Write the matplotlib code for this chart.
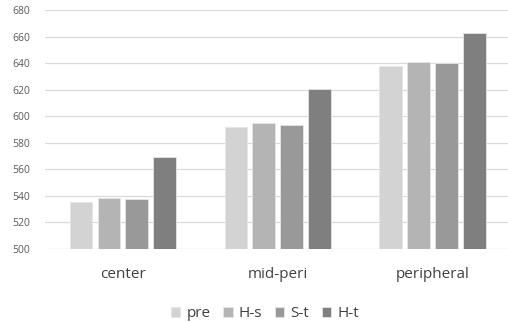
import matplotlib.pyplot as plt
import numpy as np

plt.rcParams['font.family'] = ['Open Sans', 'DejaVu Sans']

categories = ['center', 'mid-peri', 'peripheral']
series = ['pre', 'H-s', 'S-t', 'H-t']
pre = [535.4, 592.1, 637.8]
h_s = [538.4, 594.6, 640.8]
s_t = [537.6, 593.1, 640.0]
h_t = [569.3, 620.5, 662.4]
colors = ['#d3d3d3', '#b4b4b4', '#999999', '#7f7f7f']

fig = plt.figure(figsize=(5.08, 3.22), dpi=100)
ax = fig.add_axes([0.089, 0.227, 0.915, 0.742])

x = np.arange(len(categories))
step = 0.18
width = 0.145
for i, (name, vals) in enumerate(zip(series, [pre, h_s, s_t, h_t])):
    ax.bar(x + (i - 1.5) * step, vals, width, color=colors[i], label=name,
           edgecolor='#e6e6e6', linewidth=0.6, zorder=3)

ax.set_ylim(500, 680)
ax.set_xlim(-0.5, 2.5)
ax.set_yticks(np.arange(500, 681, 20))
ax.set_xticks(x)
ax.set_xticklabels(categories, fontsize=11, color='#404040')
ax.tick_params(axis='y', labelsize=7.5, labelcolor='#595959', length=0, pad=11)
ax.tick_params(axis='x', length=0, pad=13)
ax.grid(axis='y', color='#d9d9d9', linewidth=0.9, zorder=0)
for s in ax.spines.values():
    s.set_visible(False)

fig.legend(loc='lower center', bbox_to_anchor=(0.522, -0.04), ncol=4,
           frameon=False, fontsize=11, labelcolor='#404040',
           handlelength=0.6, handleheight=0.6, handletextpad=0.4,
           columnspacing=0.85)

fig.savefig('out.png', dpi=100)
